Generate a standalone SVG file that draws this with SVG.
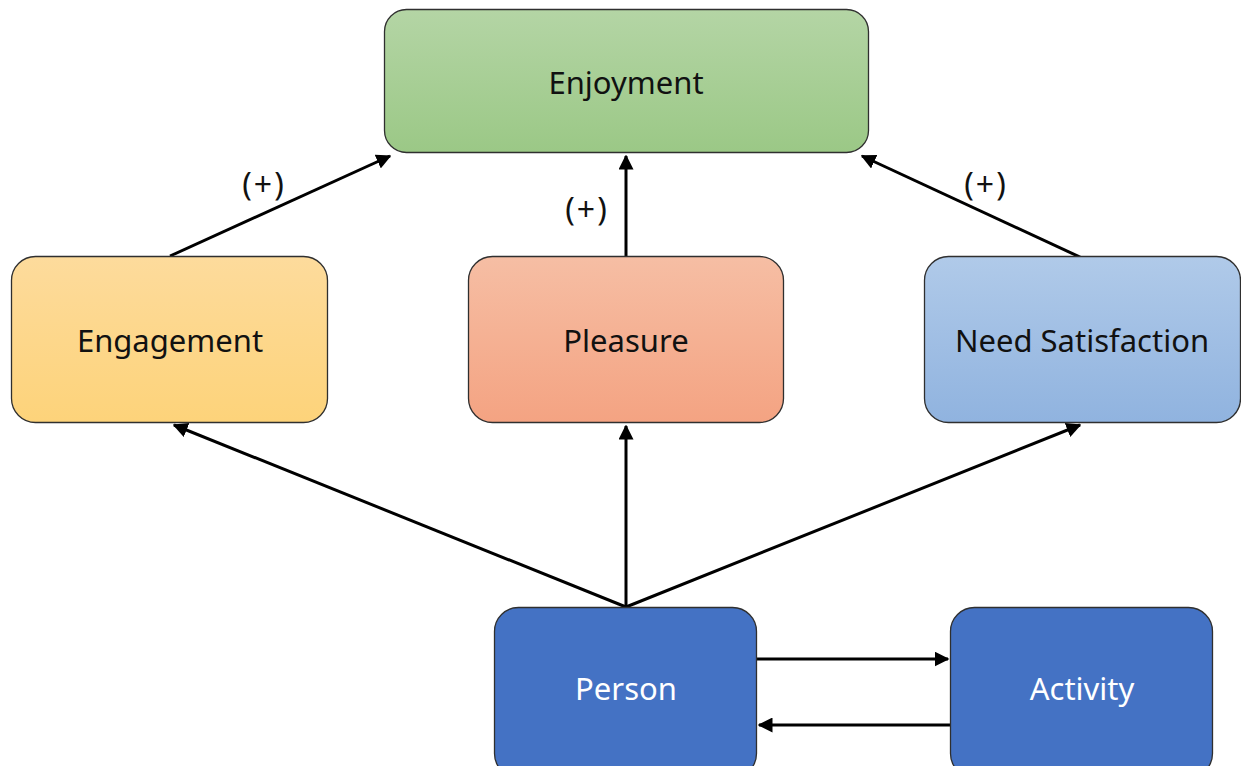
<svg xmlns="http://www.w3.org/2000/svg" width="1241" height="766" viewBox="0 0 1241 766">
  <style>
    .box { stroke: #2f2f2f; stroke-width: 1.3; }
    .lbl { font-family: "Noto Sans", "Open Sans", sans-serif; font-size: 31px; text-anchor: middle; dominant-baseline: central; fill: #111; }
    .lbl.w { fill: #ffffff; }
    .edge { stroke: #000; stroke-width: 3; fill: none; marker-end: url(#arrow); }
    .sign { font-family: "Noto Sans", "Open Sans", sans-serif; font-size: 32px; letter-spacing: 2px; text-anchor: middle; dominant-baseline: central; fill: #111; }
  </style>
  <defs>
    <linearGradient id="gGreen" x1="0" y1="0" x2="0" y2="1">
      <stop offset="0" stop-color="#b4d5a5"/>
      <stop offset="1" stop-color="#9bc886"/>
    </linearGradient>
    <linearGradient id="gYellow" x1="0" y1="0" x2="0" y2="1">
      <stop offset="0" stop-color="#fddb9c"/>
      <stop offset="1" stop-color="#fdd37a"/>
    </linearGradient>
    <linearGradient id="gOrange" x1="0" y1="0" x2="0" y2="1">
      <stop offset="0" stop-color="#f6bea4"/>
      <stop offset="1" stop-color="#f4a382"/>
    </linearGradient>
    <linearGradient id="gBlue" x1="0" y1="0" x2="0" y2="1">
      <stop offset="0" stop-color="#b0cae9"/>
      <stop offset="1" stop-color="#90b3df"/>
    </linearGradient>
    <marker id="arrow" viewBox="0 0 10 10" refX="9" refY="5" markerWidth="5" markerHeight="5" orient="auto" markerUnits="strokeWidth">
      <path d="M0,0 L10,5 L0,10 z" fill="#000"/>
    </marker>
  </defs>

  <g id="connectors">
    <line class="edge" x1="170" y1="256" x2="390" y2="156"/>
    <line class="edge" x1="626" y1="256" x2="626" y2="156"/>
    <line class="edge" x1="1082" y1="258" x2="862" y2="156"/>
    <line class="edge" x1="626" y1="607" x2="174" y2="425"/>
    <line class="edge" x1="626" y1="607" x2="626" y2="426"/>
    <line class="edge" x1="626" y1="607" x2="1080" y2="425"/>
    <line class="edge" x1="757" y1="659" x2="948" y2="659"/>
    <line class="edge" x1="950" y1="725" x2="759" y2="725"/>
    <text class="sign" x="264" y="183">(+)</text>
    <text class="sign" x="587" y="208">(+)</text>
    <text class="sign" x="986" y="183">(+)</text>
  </g>

  <g id="enjoyment">
    <rect class="box" x="384.5" y="9.5" width="484" height="143" rx="22" fill="url(#gGreen)"/>
    <text class="lbl" x="626" y="82">Enjoyment</text>
  </g>
  <g id="engagement">
    <rect class="box" x="11.5" y="256.5" width="316" height="166" rx="24" fill="url(#gYellow)"/>
    <text class="lbl" x="170" y="340">Engagement</text>
  </g>
  <g id="pleasure">
    <rect class="box" x="468.5" y="256.5" width="315" height="166" rx="24" fill="url(#gOrange)"/>
    <text class="lbl" x="626" y="340">Pleasure</text>
  </g>
  <g id="need-satisfaction">
    <rect class="box" x="924.5" y="256.5" width="316" height="166" rx="24" fill="url(#gBlue)"/>
    <text class="lbl" x="1082" y="340">Need Satisfaction</text>
  </g>
  <g id="person">
    <rect class="box" x="494.5" y="607.5" width="262" height="170" rx="24" fill="#4472c4"/>
    <text class="lbl w" x="626" y="688">Person</text>
  </g>
  <g id="activity">
    <rect class="box" x="950.5" y="607.5" width="262" height="170" rx="24" fill="#4472c4"/>
    <text class="lbl w" x="1082" y="688">Activity</text>
  </g>
</svg>
